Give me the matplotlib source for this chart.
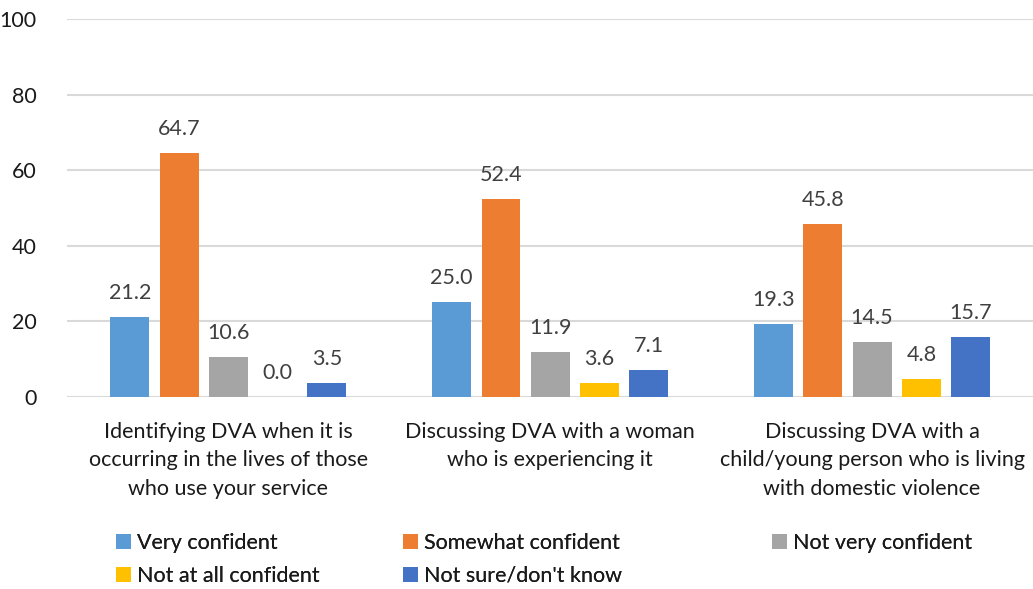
import matplotlib.pyplot as plt
import numpy as np

plt.rcParams['font.family'] = ['Lato', 'DejaVu Sans']

# Confidence in handling DVA, percentage of respondents
categories = [
    "Identifying DVA when it is\noccurring in the lives of those\nwho use your service",
    "Discussing DVA with a woman\nwho is experiencing it",
    "Discussing DVA with a\nchild/young person who is living\nwith domestic violence",
]
series_names = ["Very confident", "Somewhat confident", "Not very confident",
                "Not at all confident", "Not sure/don't know"]
very_confident = [21.2, 25.0, 19.3]
somewhat_confident = [64.7, 52.4, 45.8]
not_very_confident = [10.6, 11.9, 14.5]
not_at_all_confident = [0.0, 3.6, 4.8]
not_sure = [3.5, 7.1, 15.7]
yticks = [0, 20, 40, 60, 80, 100]

series = [very_confident, somewhat_confident, not_very_confident,
          not_at_all_confident, not_sure]
colors = ['#5B9BD5', '#ED7D31', '#A5A5A5', '#FFC000', '#4472C4']

fig = plt.figure(figsize=(10.33, 5.89), dpi=100)
ax = fig.add_axes([0.0653, 0.3265, 0.9347, 0.6405])

x = np.arange(len(categories))
pitch = 0.153
width = 0.121
handles = []
for i, (vals, col) in enumerate(zip(series, colors)):
    pos = x + (i - 2) * pitch
    bars = ax.bar(pos, vals, width, color=col, label=series_names[i], zorder=3)
    handles.append(bars)
    for p, v in zip(pos, vals):
        ax.annotate(f"{v:.1f}", (p, v), xytext=(0, 13), textcoords='offset points',
                    ha='center', va='baseline', fontsize=15.5, color='#404040')

ax.set_xlim(-0.5, 2.5)
ax.set_ylim(0, 100)
ax.set_yticks(yticks)
ax.set_xticks(x)
ax.set_xticklabels(categories, fontsize=15.5, color='#1a1a1a', linespacing=1.55)
ax.tick_params(axis='y', labelsize=15.5, colors='#1a1a1a', length=0, pad=22)
ax.tick_params(axis='x', length=0, pad=18)
ax.grid(axis='y', color='#D9D9D9', linewidth=1.5, zorder=0)
for s in ax.spines.values():
    s.set_visible(False)

# one legend per column so each column can sit at its own x
columns = [[0, 3], [1, 4], [2]]
col_x = [0.112, 0.390, 0.747]
for idx, cx in zip(columns, col_x):
    leg = fig.legend([handles[k] for k in idx], [series_names[k] for k in idx],
                     ncol=1, loc='upper left', bbox_to_anchor=(cx, 0.095),
                     frameon=False, fontsize=15.5, handlelength=0.7,
                     handleheight=0.7, handletextpad=0.3, labelspacing=0.6,
                     labelcolor='#1a1a1a', borderaxespad=0, borderpad=0)
    fig.add_artist(leg)

fig.savefig('out.png', dpi=100)
